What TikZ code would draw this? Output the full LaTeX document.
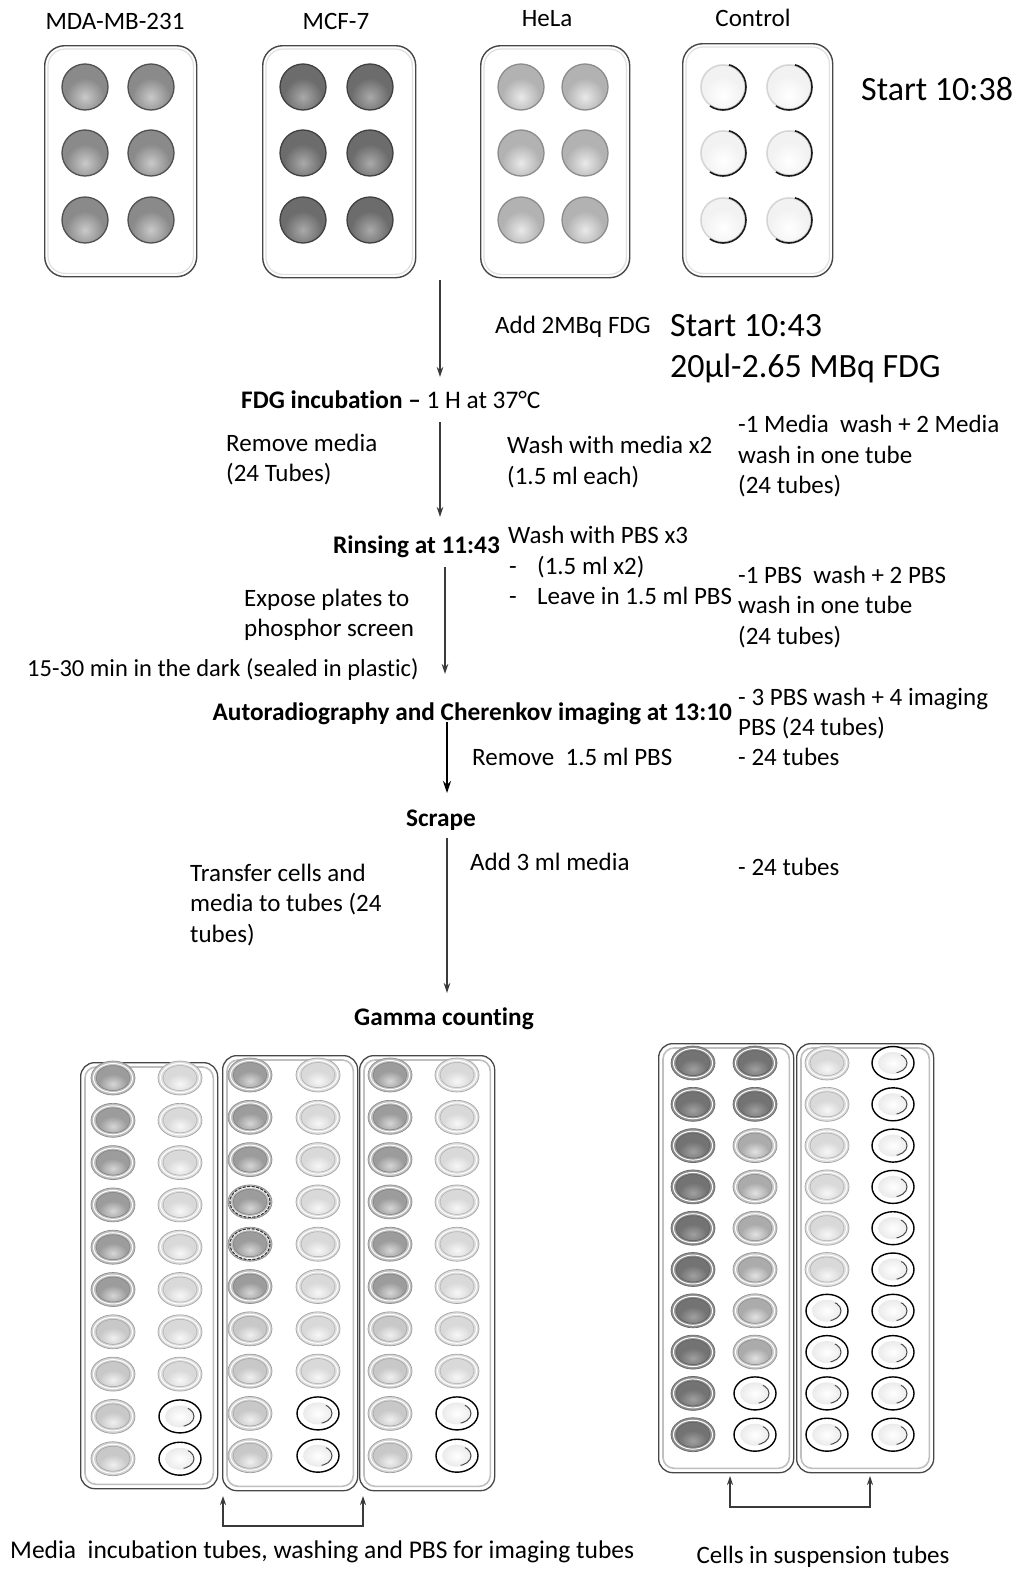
\documentclass[tikz,border=0pt]{standalone}
\usepackage{fontspec}
\setmainfont{Carlito}[Ligatures=CommonOff]
\usetikzlibrary{arrows.meta,calc}

\definecolor{linec}{HTML}{3A3A3A}
\definecolor{platec}{HTML}{474747}
\definecolor{mdaBase}{HTML}{8A8A8A}\definecolor{mdaHi}{HTML}{C9C9C9}\definecolor{mdaEdge}{HTML}{505050}
\definecolor{mcfBase}{HTML}{6C6C6C}\definecolor{mcfHi}{HTML}{A9A9A9}\definecolor{mcfEdge}{HTML}{404040}
\definecolor{helaBase}{HTML}{B2B2B2}\definecolor{helaHi}{HTML}{E9E9E9}\definecolor{helaEdge}{HTML}{8C8C8C}
\definecolor{ctlBase}{HTML}{F2F2F2}\definecolor{ctlEdge}{HTML}{D4D4D4}
\definecolor{medBase}{HTML}{9C9C9C}\definecolor{medHi}{HTML}{D6D6D6}\definecolor{medRing}{HTML}{BDBDBD}
\definecolor{ltBase}{HTML}{C8C8C8}\definecolor{ltHi}{HTML}{F0F0F0}\definecolor{ltRing}{HTML}{D2D2D2}
\definecolor{vltBase}{HTML}{D9D9D9}\definecolor{vltHi}{HTML}{F7F7F7}\definecolor{vltRing}{HTML}{DCDCDC}
\definecolor{dkBase}{HTML}{737373}\definecolor{dkHi}{HTML}{A0A0A0}\definecolor{dkRing}{HTML}{8E8E8E}
\definecolor{midBase}{HTML}{ABABAB}\definecolor{midHi}{HTML}{E2E2E2}\definecolor{midRing}{HTML}{C6C6C6}

% six-well plate well: x, y, base, highlight, edge
\newcommand\well[5]{%
  \begin{scope}[shift={(#1,#2)}]
    \begin{scope}
      \clip (0,0) circle (23);
      \fill[#3] (0,0) circle (23);
      \shade[inner color=#4, outer color=#3] (0,10) circle (19);
    \end{scope}
    \draw[#5, line width=1.3pt] (0,0) circle (23);
  \end{scope}}

% empty control well, dark rim on its right and lower side
\newcommand\ctlwell[2]{%
  \begin{scope}[shift={(#1,#2)}]
    \begin{scope}
      \clip (0,0) circle (23);
      \fill[ctlBase] (0,0) circle (23);
      \shade[inner color=white, outer color=ctlBase] (0,8) circle (19);
    \end{scope}
    \draw[ctlEdge, line width=1.4pt] (0,0) circle (22);
    \begin{scope}
      \clip (0,0) -- (8,-30) -- (32,-30) -- (32,32) -- (-22,32) -- cycle;
      \draw[black!90, line width=1.6pt] (0,0) circle (23);
    \end{scope}
  \end{scope}}

% counting tube seen from above: x, y, base, highlight, ring
\newcommand\tube[5]{%
  \begin{scope}[shift={(#1,#2)}]
    \fill[#5] (0,0) ellipse [x radius=22, y radius=17];
    \draw[#5!75!black, line width=0.7pt] (0,0) ellipse [x radius=22, y radius=17];
    \draw[white, line width=1pt] (0,0) ellipse [x radius=19.5, y radius=14.5];
    \begin{scope}
      \clip (0,0) ellipse [x radius=17, y radius=12.5];
      \fill[#3] (0,0) ellipse [x radius=17, y radius=12.5];
      \shade[inner color=#4, outer color=#3] (0,6) ellipse [x radius=14, y radius=10];
    \end{scope}
    \draw[#3!80!black, line width=0.5pt] (0,0) ellipse [x radius=17, y radius=12.5];
  \end{scope}}

% tube with a dark dashed rim
\newcommand\rimtube[2]{%
  \tube{#1}{#2}{medBase}{medHi}{medRing}%
  \draw[black!80, line width=1.1pt, dash pattern=on 3pt off 1.5pt] (#1,#2) ellipse [x radius=20, y radius=15.5];}

% empty tube with black outline and a faint inner rim on the right
\newcommand\opentube[2]{%
  \begin{scope}[shift={(#1,#2)}]
    \fill[white] (0,0) ellipse [x radius=21, y radius=16.5];
    \shade[inner color=white, outer color=black!8] (0,0) ellipse [x radius=15, y radius=11];
    \draw[black, line width=1.4pt] (0,0) ellipse [x radius=21, y radius=16.5];
    \begin{scope}
      \clip (0,0) -- (14,-14) -- (22,-14) -- (22,16) -- (6,16) -- cycle;
      \draw[black!75, line width=0.9pt] (0,0) ellipse [x radius=14, y radius=10];
    \end{scope}
  \end{scope}}

\tikzset{
  txt/.style={font=\fontsize{25}{30}\selectfont, inner sep=0pt, anchor=base west},
  btxt/.style={font=\fontsize{25.3}{30}\selectfont\bfseries, inner sep=0pt, anchor=base},
  bigtxt/.style={font=\fontsize{34}{40}\selectfont, inner sep=0pt, anchor=base west},
  plate/.style={draw=platec, line width=1.4pt, rounded corners=20pt, inner sep=0pt, anchor=north west},
  rack/.style={draw=platec, line width=1.3pt, rounded corners=14pt, inner sep=0pt, anchor=north west},
  conn/.style={draw=linec, line width=1.1pt, -{Stealth[length=10pt,width=6.5pt]}},
  strongconn/.style={draw=black, line width=1.5pt, -{Stealth[length=12pt,width=8pt]}},
  bracket/.style={draw=linec, line width=1.1pt, {Stealth[length=9pt,width=6pt]}-{Stealth[length=9pt,width=6pt]}}
}

\begin{document}
\begin{tikzpicture}[x=1pt, y=-1pt]
\useasboundingbox (0,0) rectangle (1015,1574);
\fill[white] (0,0) rectangle (1015,1574);

% ---------- plates ----------
\node[plate, minimum width=152pt, minimum height=231pt] (pmda) at (44,45) {};
\node[plate, minimum width=153pt, minimum height=232pt] (pmcf) at (262,45) {};
\node[plate, minimum width=149pt, minimum height=232pt] (phela) at (480,45) {};
\node[plate, minimum width=150pt, minimum height=233pt] (pctl) at (682,43) {};
\foreach \p in {pmda,pmcf,phela,pctl}
  \draw[black!12, line width=1.2pt, rounded corners=17pt]
    ($(\p.north west)+(4,4)$) rectangle ($(\p.south east)+(-4,-4)$);

\node[txt, anchor=base] (lmda) at (115,29) {MDA-MB-231};
\node[txt, anchor=base] (lmcf) at (336,29) {MCF-7};
\node[txt, anchor=base] (lhela) at (547,27) {HeLa};
\node[txt, anchor=base] (lctl) at (753,27) {Control};
\node[bigtxt] (start1) at (861,100) {Start 10:38};

\foreach \y in {87,153,220} {
  \well{85}{\y}{mdaBase}{mdaHi}{mdaEdge}
  \well{151}{\y}{mdaBase}{mdaHi}{mdaEdge}
  \well{303}{\y}{mcfBase}{mcfHi}{mcfEdge}
  \well{370}{\y}{mcfBase}{mcfHi}{mcfEdge}
  \well{521}{\y}{helaBase}{helaHi}{helaEdge}
  \well{585}{\y}{helaBase}{helaHi}{helaEdge}
  \ctlwell{723}{\y}
  \ctlwell{789}{\y}
}

% ---------- protocol flow ----------
\coordinate (a1s) at (440,280); \coordinate (a1e) at (440,377);
\coordinate (a2s) at (440,422); \coordinate (a2e) at (440,517);
\coordinate (a3s) at (445,567); \coordinate (a3e) at (445,674);
\coordinate (a4s) at (447,722); \coordinate (a4e) at (447,793);
\coordinate (a5s) at (447,838); \coordinate (a5e) at (447,993);
\draw[conn] (a1s) -- (a1e);
\draw[conn] (a2s) -- (a2e);
\draw[conn] (a3s) -- (a3e);
\draw[strongconn] (a4s) -- (a4e);
\draw[conn] (a5s) -- (a5e);

\node[txt] (addfdg) at (495,333) {Add 2MBq FDG};
\node[bigtxt] (start2) at (670,336) {Start 10:43};
\node[bigtxt] (dose) at (670,377) {20μl-2.65 MBq FDG};

\node[txt] (incub) at (241,408) {\fontsize{25.3}{30}\selectfont\bfseries FDG incubation –\mdseries\ 1 H at 37°C};

\node[txt] (rm1) at (226,451) {Remove media};
\node[txt] (rm2) at (226,481) {(24 Tubes)};
\node[txt] (wm1) at (507,453) {Wash with media x2};
\node[txt] (wm2) at (507,484) {(1.5 ml each)};
\node[txt] (mt1) at (738,432) {-1 Media\ \ wash + 2 Media};
\node[txt] (mt2) at (738,463) {wash in one tube};
\node[txt] (mt3) at (738,493) {(24 tubes)};

\node[btxt, anchor=base east] (rinse) at (500,553) {Rinsing at 11:43};
\node[txt] (wp1) at (508,543) {Wash with PBS x3};
\node[txt] (wp2) at (509,574) {\makebox[28pt][l]{-}(1.5 ml x2)};
\node[txt] (wp3) at (509,604) {\makebox[28pt][l]{-}Leave in 1.5 ml PBS};
\node[txt] (pt1) at (738,583) {-1 PBS\ \ wash + 2 PBS};
\node[txt] (pt2) at (738,613) {wash in one tube};
\node[txt] (pt3) at (738,644) {(24 tubes)};

\node[txt] (ex1) at (244,606) {Expose plates to};
\node[txt] (ex2) at (244,636) {phosphor screen};
\node[txt] (dark) at (27,676) {\fontsize{24.5}{30}\selectfont 15-30 min in the dark (sealed in plastic)};

\node[btxt, anchor=base east] (autorad) at (732,720) {Autoradiography and Cherenkov imaging at 13:10};
\node[txt] (ip1) at (738,705) {- 3 PBS wash + 4 imaging};
\node[txt] (ip2) at (738,735) {PBS (24 tubes)};
\node[txt] (rmpbs) at (472,765) {Remove\ \ 1.5 ml PBS};
\node[txt] (t24a) at (738,765) {- 24 tubes};

\node[btxt] (scrape) at (441,826) {Scrape};
\node[txt] (add3) at (470,870) {Add 3 ml media};
\node[txt] (t24b) at (738,875) {- 24 tubes};
\node[txt] (tr1) at (190,881) {Transfer cells and};
\node[txt] (tr2) at (190,911) {media to tubes (24};
\node[txt] (tr3) at (190,942) {tubes)};

\node[btxt] (gamma) at (444,1025) {Gamma counting};

% ---------- counting racks ----------
\node[rack, minimum width=137pt, minimum height=426pt] (rk1) at (80,1062) {};
\node[rack, minimum width=135pt, minimum height=435pt] (rk2) at (222,1055) {};
\node[rack, minimum width=135pt, minimum height=435pt] (rk3) at (359,1055) {};
\node[rack, minimum width=135pt, minimum height=429pt] (rkA) at (658,1043) {};
\node[rack, minimum width=137pt, minimum height=429pt] (rkB) at (796,1043) {};
\foreach \r in {rk1,rk2,rk3,rkA,rkB}
  \draw[black!25, line width=1.6pt, rounded corners=11pt]
    ($(\r.north west)+(5,5)$) rectangle ($(\r.south east)+(-5,-5)$);

\foreach \i in {0,...,9} {
  \pgfmathsetmacro{\ya}{1078+42.3*\i}
  \pgfmathsetmacro{\yb}{1075+42.3*\i}
  \pgfmathsetmacro{\yc}{1063+41.3*\i}
  % first rack
  \ifnum\i<6 \tube{113}{\ya}{medBase}{medHi}{medRing}\else \tube{113}{\ya}{ltBase}{ltHi}{ltRing}\fi
  \ifnum\i<8 \tube{180}{\ya}{vltBase}{vltHi}{vltRing}\else \opentube{180}{\ya}\fi
  % second rack
  \ifnum\i<3 \tube{250}{\yb}{medBase}{medHi}{medRing}\else
    \ifnum\i<5 \rimtube{250}{\yb}\else
      \ifnum\i<6 \tube{250}{\yb}{medBase}{medHi}{medRing}\else \tube{250}{\yb}{ltBase}{ltHi}{ltRing}\fi\fi\fi
  \ifnum\i<8 \tube{318}{\yb}{vltBase}{vltHi}{vltRing}\else \opentube{318}{\yb}\fi
  % third rack
  \ifnum\i<6 \tube{390}{\yb}{medBase}{medHi}{medRing}\else \tube{390}{\yb}{ltBase}{ltHi}{ltRing}\fi
  \ifnum\i<8 \tube{457}{\yb}{vltBase}{vltHi}{vltRing}\else \opentube{457}{\yb}\fi
  % cell suspension racks
  \tube{693}{\yc}{dkBase}{dkHi}{dkRing}
  \ifnum\i<2 \tube{755}{\yc}{dkBase}{dkHi}{dkRing}\else
    \ifnum\i<8 \tube{755}{\yc}{midBase}{midHi}{midRing}\else \opentube{755}{\yc}\fi\fi
  \ifnum\i<6 \tube{827}{\yc}{vltBase}{vltHi}{vltRing}\else \opentube{827}{\yc}\fi
  \opentube{893}{\yc}
}

% ---------- grouping brackets ----------
\coordinate (bl1) at (223,1496); \coordinate (bl2) at (363,1496);
\coordinate (br1) at (730,1476); \coordinate (br2) at (870,1476);
\draw[bracket] (bl1) -- ++(0,30) -| (bl2);
\draw[bracket] (br1) -- ++(0,31) -| (br2);

\node[txt] (capL) at (10,1558) {\fontsize{25.5}{30}\selectfont Media\ \ incubation tubes, washing and PBS for imaging tubes};
\node[txt, anchor=base] (capR) at (823,1563) {Cells in suspension tubes};
\end{tikzpicture}
\end{document}
